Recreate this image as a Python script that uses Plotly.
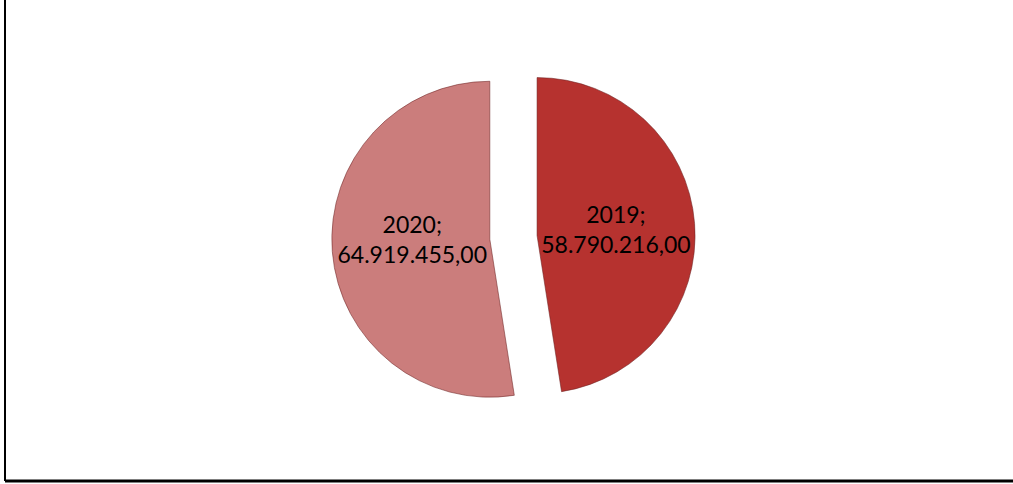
import plotly.graph_objects as go

# pie data (values as printed on the labels)
years = ["2019", "2020"]
amounts = [58790216.00, 64919455.00]
amount_labels = ["58.790.216,00", "64.919.455,00"]

slice_colors = ["#B6322F", "#CB7D7C"]

fig = go.Figure()

fig.add_trace(go.Pie(
    labels=years,
    values=amounts,
    text=amount_labels,
    texttemplate="%{label};<br>%{text}",
    textposition="inside",
    insidetextorientation="horizontal",
    textfont=dict(family="Lato, Open Sans, sans-serif", size=23, color="black"),
    marker=dict(colors=slice_colors, line=dict(color="rgba(110,35,35,0.55)", width=1)),
    pull=[0.15, 0.15],
    sort=False,
    direction="clockwise",
    rotation=0,
    hole=0,
    showlegend=False,
    domain=dict(x=[0.3275, 0.6862], y=[0.134, 0.885]),
))

# frame of the chart area (only left and bottom edges visible)
fig.add_shape(type="line", xref="paper", yref="paper",
              x0=5 / 1013, x1=5 / 1013, y0=3 / 484, y1=1.01,
              line=dict(color="black", width=2))
fig.add_shape(type="line", xref="paper", yref="paper",
              x0=5 / 1013, x1=1.01, y0=3 / 484, y1=3 / 484,
              line=dict(color="black", width=3))

fig.update_layout(
    width=1013, height=484,
    margin=dict(l=0, r=0, t=0, b=0),
    paper_bgcolor="white",
    plot_bgcolor="white",
    uniformtext=dict(minsize=23, mode="show"),
)

fig.write_html("out.html", config={"displayModeBar": False},
               post_script="document.body.style.margin='0';")
